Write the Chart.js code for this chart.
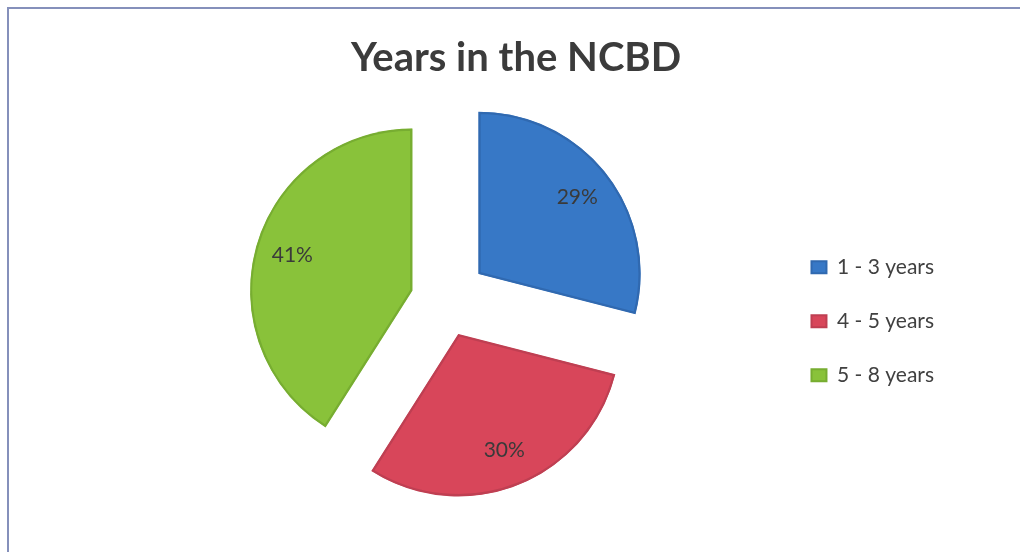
<!DOCTYPE html>
<html>
<head>
<meta charset="utf-8">
<title>Years in the NCBD</title>
<script src="https://cdn.jsdelivr.net/npm/chart.js@4/dist/chart.umd.min.js"></script>
<style>
  html, body { margin: 0; padding: 0; background: #fff; }
  canvas { display: block; }
</style>
</head>
<body>
<canvas id="pie-years" width="1020" height="552"></canvas>
<script>
// Tempo de permanência no NCBD (em %)
const categories = ['1 - 3 years', '4 - 5 years', '5 - 8 years'];
const shares = [29, 30, 41];
const chartTitle = 'Years in the NCBD';

// Moldura cinza-azulada (só topo e lado esquerdo aparecem)
const framePlugin = {
    id: 'frame',
    beforeDraw(chart) {
        const ctx = chart.ctx;
        ctx.save();
        ctx.fillStyle = '#fff';
        ctx.fillRect(0, 0, chart.width, chart.height);
        ctx.strokeStyle = '#8590bb';
        ctx.lineWidth = 2;
        ctx.beginPath();
        ctx.moveTo(8, chart.height);
        ctx.lineTo(8, 8);
        ctx.lineTo(chart.width, 8);
        ctx.stroke();
        ctx.restore();
    }
};

// Título centrado na página inteira, não só na área do gráfico
const pageTitlePlugin = {
    id: 'pageTitle',
    afterDraw(chart) {
        const ctx = chart.ctx;
        ctx.save();
        ctx.font = 'bold 40px Lato';
        ctx.fillStyle = '#3b3b3b';
        ctx.textAlign = 'center';
        ctx.textBaseline = 'middle';
        ctx.fillText(chartTitle, 516, 58);
        ctx.restore();
    }
};

// Pizza "explodida": afasta cada fatia do centro pela bissetriz (px)
const explodePlugin = {
    id: 'explode',
    distances: [43, 37, 34],
    afterDatasetUpdate(chart, args) {
        args.meta.data.forEach((arc, i) => {
            const mid = (arc.startAngle + arc.endAngle) / 2;
            const d = this.distances[i] || 0;
            arc.x += Math.cos(mid) * d;
            arc.y += Math.sin(mid) * d;
        });
    }
};

// Percentuais dentro de cada fatia
const sliceLabelPlugin = {
    id: 'sliceLabels',
    afterDatasetsDraw(chart) {
        const ctx = chart.ctx;
        const meta = chart.getDatasetMeta(0);
        ctx.save();
        ctx.font = '21px Lato';
        ctx.fillStyle = '#3a3a3a';
        ctx.textAlign = 'center';
        ctx.textBaseline = 'middle';
        meta.data.forEach((arc, i) => {
            const mid = (arc.startAngle + arc.endAngle) / 2;
            const dist = arc.outerRadius * 0.77;
            ctx.fillText(shares[i] + '%', arc.x + Math.cos(mid) * dist, arc.y + Math.sin(mid) * dist);
        });
        ctx.restore();
    }
};

const ctx = document.getElementById('pie-years').getContext('2d');
new Chart(ctx, {
    type: 'pie',
    data: {
        labels: categories,
        datasets: [{
            data: shares,
            backgroundColor: ['#3778c6', '#d8465a', '#89c23a'],
            borderColor: ['#3069b0', '#bf3f52', '#77ad31'],
            borderWidth: 2,
            borderAlign: 'inner',
            hoverOffset: 0
        }]
    },
    options: {
        responsive: false,
        animation: false,
        radius: 162,
        layout: {
            padding: { top: 84, bottom: 36, left: 111, right: 76 }
        },
        plugins: {
            title: { display: false },
            legend: {
                position: 'right',
                title: {
                    display: true,
                    text: '',
                    padding: { top: 28, bottom: 0 }
                },
                labels: {
                    color: '#404040',
                    font: { family: 'Lato', size: 21 },
                    boxWidth: 15,
                    boxHeight: 12,
                    padding: 33
                }
            },
            tooltip: { enabled: false }
        }
    },
    plugins: [framePlugin, explodePlugin, sliceLabelPlugin, pageTitlePlugin]
});
</script>
</body>
</html>
